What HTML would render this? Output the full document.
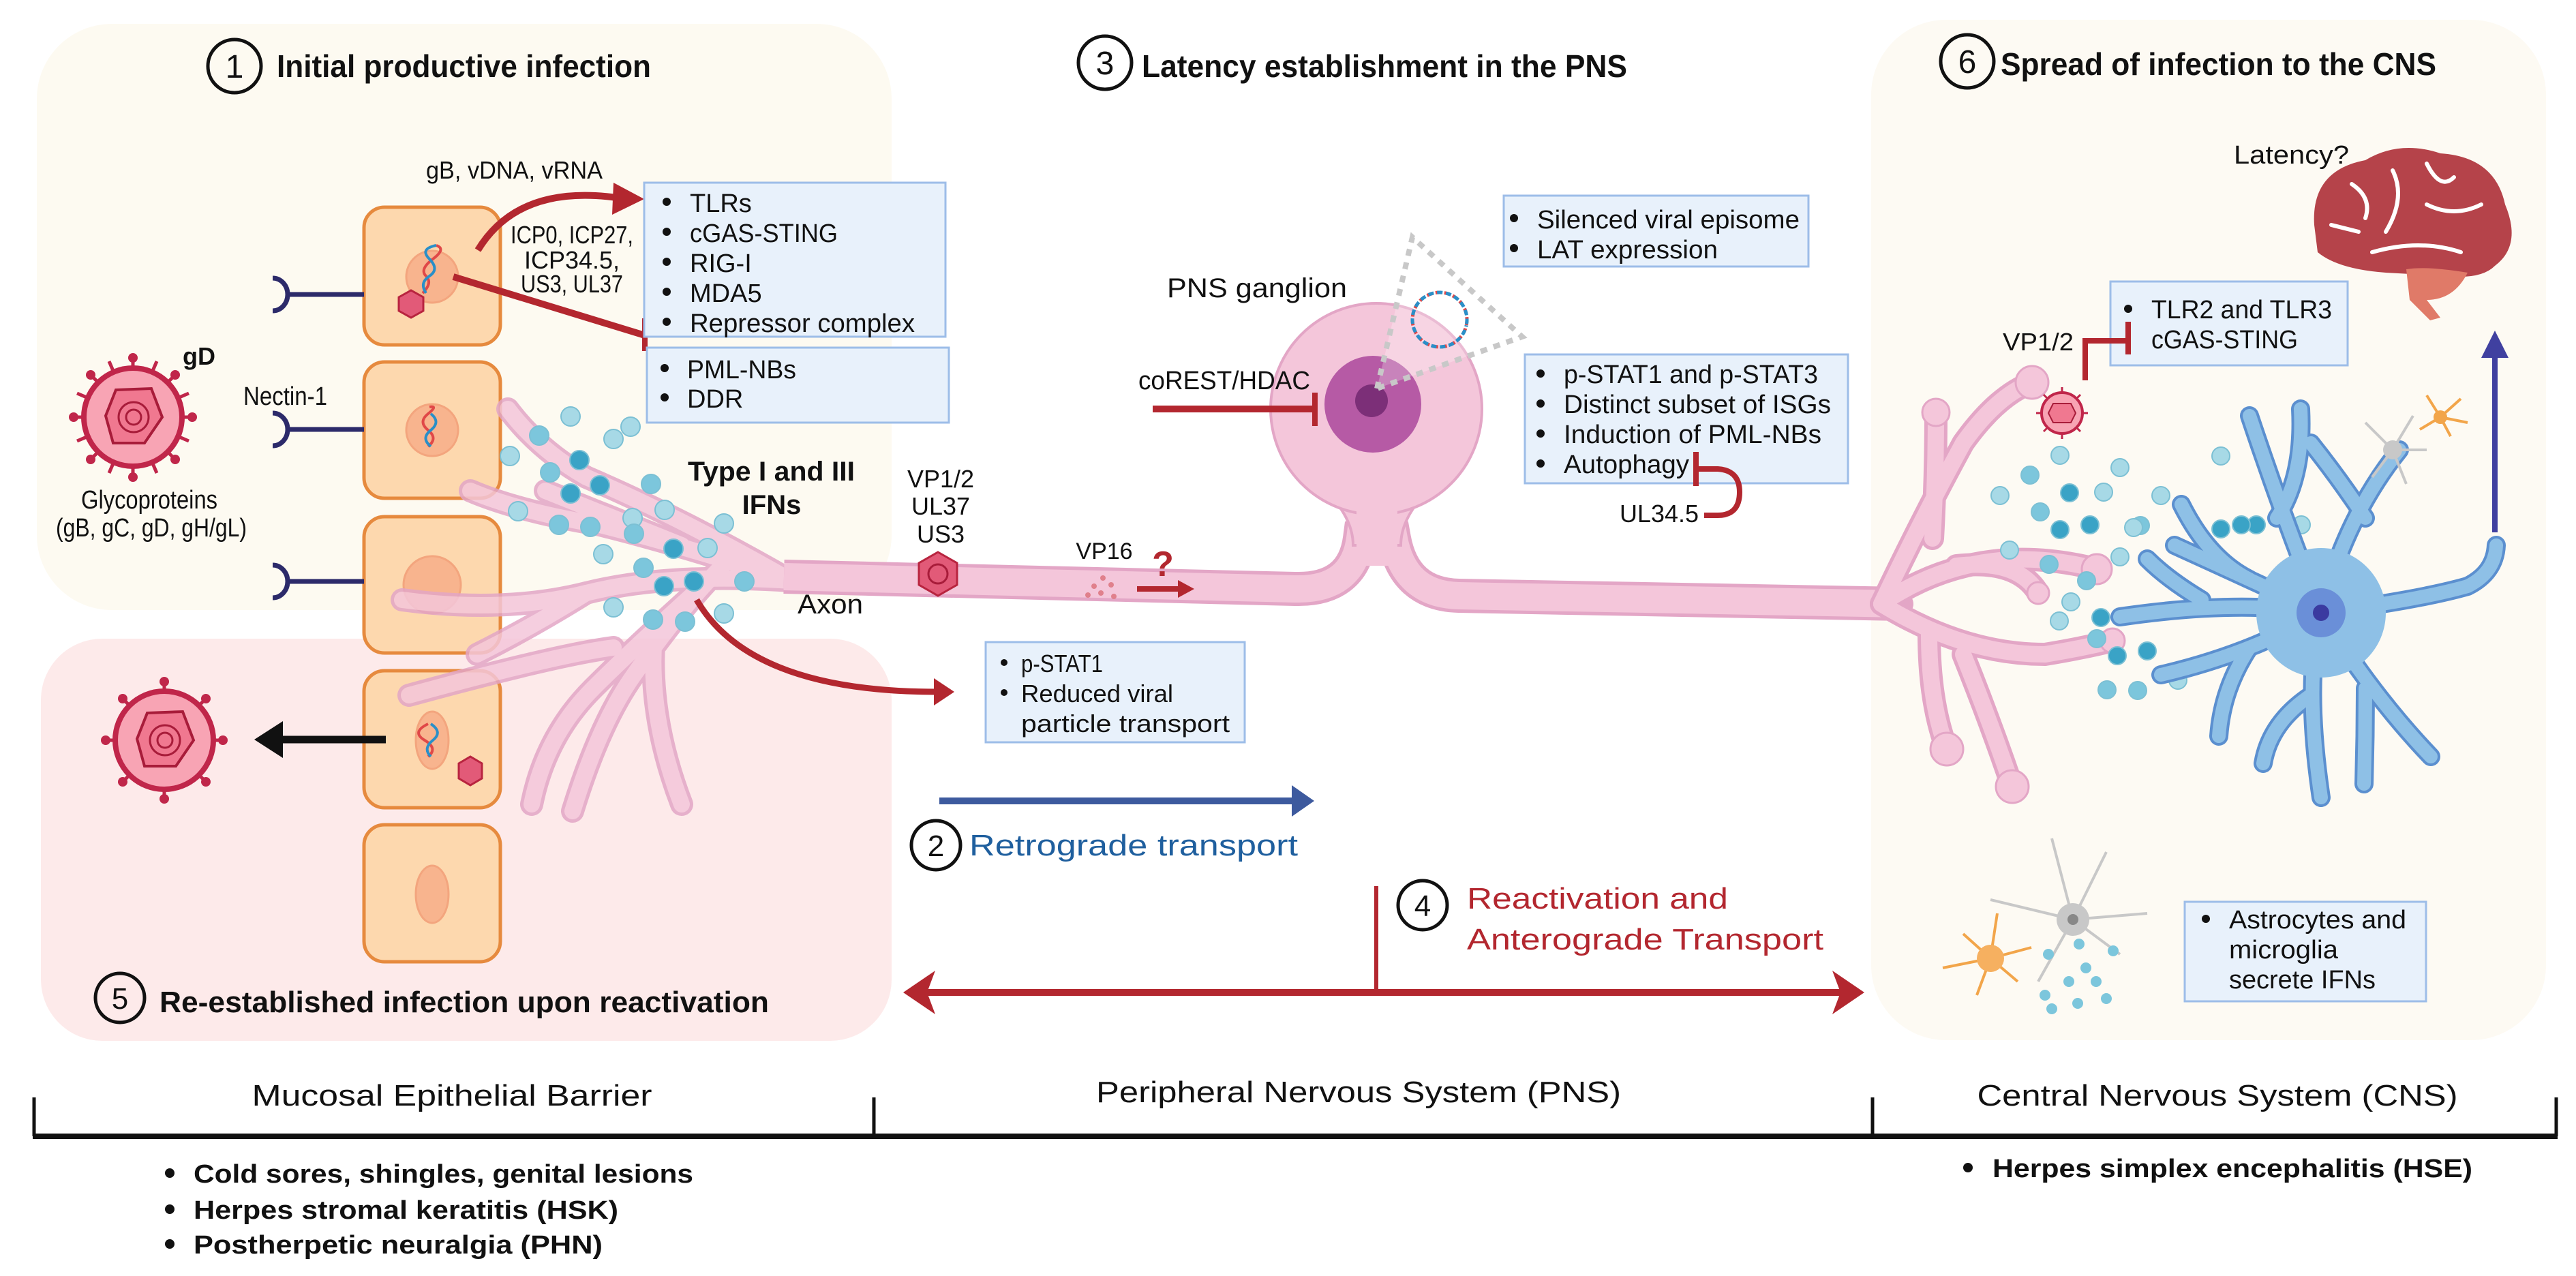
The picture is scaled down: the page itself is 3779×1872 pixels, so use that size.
<!DOCTYPE html>
<html><head><meta charset="utf-8"><style>
html,body{margin:0;padding:0;background:#fff;}
svg{display:block;}
text{font-family:"Liberation Sans",sans-serif;fill:#111;}
</style></head><body>
<svg width="3779" height="1872" viewBox="0 0 3779 1872" xmlns="http://www.w3.org/2000/svg">
<defs>
<marker id="ar" markerWidth="6" markerHeight="6" refX="3" refY="3" orient="auto" markerUnits="strokeWidth"><path d="M0,0 L6,3 L0,6 Z" fill="#b3272f"/></marker>
</defs>
<!-- panels -->
<rect x="54" y="35" width="1254" height="860" rx="110" fill="#fdfaf1"/>
<rect x="60" y="937" width="1248" height="590" rx="90" fill="#fdeaea"/>
<rect x="2745" y="29" width="990" height="1497" rx="110" fill="#fdfaf3"/>

<!-- titles -->
<circle cx="344" cy="97" r="39" fill="none" stroke="#111" stroke-width="5"/>
<text x="344" y="114" font-size="48" text-anchor="middle">1</text>
<text x="406" y="113" font-size="46" font-weight="bold" textLength="549" lengthAdjust="spacingAndGlyphs">Initial productive infection</text>
<circle cx="1621" cy="92" r="39" fill="none" stroke="#111" stroke-width="5"/>
<text x="1621" y="109" font-size="48" text-anchor="middle">3</text>
<text x="1675" y="113" font-size="46" font-weight="bold" textLength="712" lengthAdjust="spacingAndGlyphs">Latency establishment in the PNS</text>
<circle cx="2886" cy="90" r="39" fill="none" stroke="#111" stroke-width="5"/>
<text x="2886" y="107" font-size="48" text-anchor="middle">6</text>
<text x="2935" y="110" font-size="46" font-weight="bold" textLength="639" lengthAdjust="spacingAndGlyphs">Spread of infection to the CNS</text>

<!-- cells -->
<g fill="#fdd8ae" stroke="#e68a3e" stroke-width="5">
<rect x="534" y="304" width="200" height="202" rx="30"/>
<rect x="534" y="531" width="200" height="200" rx="30"/>
<rect x="534" y="758" width="200" height="200" rx="30"/>
<rect x="534" y="984" width="200" height="201" rx="30"/>
<rect x="534" y="1210" width="200" height="201" rx="30"/>
</g>
<g fill="#f8b48e" stroke="#f3a57e" stroke-width="3">
<circle cx="634" cy="406" r="38"/>
<circle cx="634" cy="631" r="38"/>
<circle cx="634" cy="858" r="42"/>
<ellipse cx="634" cy="1086" rx="24" ry="42"/>
<ellipse cx="634" cy="1312" rx="24" ry="42"/>
</g>
<!-- dna in nuclei -->
<path d="M620,430 q15,-15 5,-25 t10,-25 t5,-20" stroke="#e04848" stroke-width="4" fill="none"/>
<path d="M625,430 q-10,-15 5,-25 t0,-25 t10,-20" stroke="#2a8fc8" stroke-width="4" fill="none"/>
<path d="M628,655 q15,-12 0,-24 t0,-24 t2,-10" stroke="#e04848" stroke-width="4" fill="none"/>
<path d="M632,655 q-15,-12 0,-24 t0,-24" stroke="#2a8fc8" stroke-width="4" fill="none"/>
<path d="M628,1110 q15,-12 -5,-24 t5,-24" stroke="#e04848" stroke-width="4" fill="none"/>
<path d="M632,1110 q-12,-12 3,-24 t-3,-24" stroke="#2a8fc8" stroke-width="4" fill="none"/>
<polygon points="585,436 603,426 621,436 621,456 603,466 585,456" fill="#e25a78" stroke="#b8243f" stroke-width="3"/>
<polygon points="673,1120 690,1110 707,1120 707,1142 690,1152 673,1142" fill="#e25a78" stroke="#b8243f" stroke-width="3"/>

<!-- nectin receptors -->
<g stroke="#2c2a6a" stroke-width="7" fill="none">
<line x1="424" y1="432" x2="534" y2="432"/><path d="M400,408 a22,24 0 0 1 0,48"/>
<line x1="424" y1="630" x2="534" y2="630"/><path d="M400,606 a22,24 0 0 1 0,48"/>
<line x1="424" y1="853" x2="534" y2="853"/><path d="M400,829 a22,24 0 0 1 0,48"/>
</g>
<text x="357" y="594" font-size="38" textLength="123" lengthAdjust="spacingAndGlyphs">Nectin-1</text>

<!-- virion left -->
<g>
<g stroke="#c0264a" stroke-width="5">
<line x1="195" y1="525" x2="195" y2="700"/><line x1="108" y1="612" x2="282" y2="612"/>
<line x1="133" y1="550" x2="257" y2="674"/><line x1="257" y1="550" x2="133" y2="674"/>
<line x1="160" y1="530" x2="230" y2="694"/><line x1="230" y1="530" x2="160" y2="694"/>
<line x1="113" y1="577" x2="277" y2="647"/><line x1="113" y1="647" x2="277" y2="577"/>
</g>
<g fill="#c0264a"><circle cx="195" cy="525" r="7"/><circle cx="195" cy="700" r="7"/><circle cx="108" cy="612" r="7"/><circle cx="282" cy="612" r="7"/><circle cx="133" cy="550" r="7"/><circle cx="257" cy="674" r="7"/><circle cx="257" cy="550" r="7"/><circle cx="133" cy="674" r="7"/></g>
<circle cx="195" cy="612" r="72" fill="#f8a4b4" stroke="#c0264a" stroke-width="8"/>
<polygon points="170,572 222,570 238,612 212,650 166,650 155,610" fill="#f07890" stroke="#a81c3a" stroke-width="4"/>
<circle cx="196" cy="612" r="22" fill="none" stroke="#a81c3a" stroke-width="3"/>
<circle cx="196" cy="612" r="11" fill="none" stroke="#a81c3a" stroke-width="3"/>
</g>
<text x="268" y="535" font-size="36" font-weight="bold">gD</text>
<text x="219" y="746" font-size="38" text-anchor="middle" textLength="200" lengthAdjust="spacingAndGlyphs">Glycoproteins</text>
<text x="82" y="787" font-size="38" textLength="280" lengthAdjust="spacingAndGlyphs">(gB, gC, gD, gH/gL)</text>

<!-- left dendrites -->
<g fill="none" stroke-linecap="round" opacity="0.85">
<g stroke="#e3a6c6" stroke-width="34">
<path d="M1160,852 Q1000,760 860,700 Q790,660 745,600"/>
<path d="M1160,852 Q1000,800 880,770 Q760,750 690,720"/>
<path d="M1160,852 Q980,840 860,870 Q740,900 590,880"/>
<path d="M1000,800 Q900,760 800,720"/>
<path d="M1060,830 Q1000,890 930,990 Q880,1060 840,1190"/>
<path d="M1030,860 Q930,950 870,1010 Q800,1080 780,1180"/>
<path d="M900,950 Q820,960 600,1020"/>
<path d="M960,930 Q950,1050 1000,1180"/>
<path d="M860,870 Q780,920 700,960"/>
</g>
<g stroke="#f4c6da" stroke-width="24">
<path d="M1160,852 Q1000,760 860,700 Q790,660 745,600"/>
<path d="M1160,852 Q1000,800 880,770 Q760,750 690,720"/>
<path d="M1160,852 Q980,840 860,870 Q740,900 590,880"/>
<path d="M1000,800 Q900,760 800,720"/>
<path d="M1060,830 Q1000,890 930,990 Q880,1060 840,1190"/>
<path d="M1030,860 Q930,950 870,1010 Q800,1080 780,1180"/>
<path d="M900,950 Q820,960 600,1020"/>
<path d="M960,930 Q950,1050 1000,1180"/>
<path d="M860,870 Q780,920 700,960"/>
</g>
</g>
<!-- left IFN dots -->
<g stroke="#7cc0d4" stroke-width="2">
<circle cx="837" cy="611" r="14" fill="#a7d9e6"/><circle cx="791" cy="639" r="14" fill="#7cc6dc"/><circle cx="850" cy="675" r="14" fill="#3aa3c6"/>
<circle cx="900" cy="644" r="14" fill="#a7d9e6"/><circle cx="925" cy="626" r="14" fill="#a7d9e6"/><circle cx="748" cy="669" r="14" fill="#a7d9e6"/>
<circle cx="807" cy="693" r="14" fill="#7cc6dc"/><circle cx="837" cy="724" r="14" fill="#3aa3c6"/><circle cx="880" cy="712" r="14" fill="#3aa3c6"/>
<circle cx="955" cy="710" r="14" fill="#7cc6dc"/><circle cx="760" cy="750" r="14" fill="#a7d9e6"/><circle cx="820" cy="770" r="14" fill="#7cc6dc"/>
<circle cx="866" cy="773" r="14" fill="#7cc6dc"/><circle cx="928" cy="760" r="14" fill="#a7d9e6"/><circle cx="975" cy="748" r="14" fill="#a7d9e6"/>
<circle cx="930" cy="783" r="14" fill="#7cc6dc"/><circle cx="1062" cy="768" r="14" fill="#a7d9e6"/><circle cx="885" cy="813" r="14" fill="#a7d9e6"/>
<circle cx="988" cy="805" r="14" fill="#3aa3c6"/><circle cx="1038" cy="804" r="14" fill="#a7d9e6"/><circle cx="944" cy="833" r="14" fill="#7cc6dc"/>
<circle cx="974" cy="860" r="14" fill="#3aa3c6"/><circle cx="1018" cy="853" r="14" fill="#3aa3c6"/><circle cx="1092" cy="853" r="14" fill="#7cc6dc"/>
<circle cx="900" cy="891" r="14" fill="#a7d9e6"/><circle cx="958" cy="909" r="14" fill="#7cc6dc"/><circle cx="1005" cy="912" r="14" fill="#7cc6dc"/><circle cx="1062" cy="900" r="14" fill="#a7d9e6"/>
</g>
<text x="1009" y="705" font-size="40" font-weight="bold" textLength="245" lengthAdjust="spacingAndGlyphs">Type I and III</text>
<text x="1132" y="754" font-size="40" font-weight="bold" text-anchor="middle">IFNs</text>
<text x="1170" y="900" font-size="40" textLength="96" lengthAdjust="spacingAndGlyphs">Axon</text>

<!-- left labels & arrows -->
<text x="625" y="262" font-size="36" textLength="259" lengthAdjust="spacingAndGlyphs">gB, vDNA, vRNA</text>
<text x="839" y="357" font-size="36" text-anchor="middle" textLength="180" lengthAdjust="spacingAndGlyphs">ICP0, ICP27,</text>
<text x="839" y="394" font-size="36" text-anchor="middle">ICP34.5,</text>
<text x="839" y="429" font-size="36" text-anchor="middle" textLength="150" lengthAdjust="spacingAndGlyphs">US3, UL37</text>
<path d="M701,367 Q760,270 905,290" stroke="#b3272f" stroke-width="10" fill="none"/>
<polygon points="945,292 900,268 898,315" fill="#b3272f"/>
<line x1="665" y1="406" x2="946" y2="492" stroke="#b3272f" stroke-width="10"/>
<line x1="946" y1="467" x2="946" y2="515" stroke="#b3272f" stroke-width="8"/>

<!-- boxes -->
<g fill="#e8f1fb" stroke="#9dbde8" stroke-width="3">
<rect x="945" y="268" width="442" height="226"/>
<rect x="949" y="510" width="443" height="110"/>
<rect x="1446" y="942" width="380" height="147"/>
<rect x="2206" y="287" width="447" height="104"/>
<rect x="2237" y="520" width="474" height="189"/>
<rect x="3096" y="413" width="348" height="123"/>
<rect x="3205" y="1323" width="354" height="146"/>
</g>
<g font-size="38">
<circle cx="978" cy="296" r="6" fill="#111"/><text x="1012" y="311">TLRs</text>
<circle cx="978" cy="340" r="6" fill="#111"/><text x="1012" y="355" textLength="217" lengthAdjust="spacingAndGlyphs">cGAS-STING</text>
<circle cx="978" cy="384" r="6" fill="#111"/><text x="1012" y="399">RIG-I</text>
<circle cx="978" cy="428" r="6" fill="#111"/><text x="1012" y="443">MDA5</text>
<circle cx="978" cy="472" r="6" fill="#111"/><text x="1012" y="487" textLength="330" lengthAdjust="spacingAndGlyphs">Repressor complex</text>
<circle cx="975" cy="540" r="6" fill="#111"/><text x="1008" y="555" textLength="160" lengthAdjust="spacingAndGlyphs">PML-NBs</text>
<circle cx="975" cy="583" r="6" fill="#111"/><text x="1008" y="598">DDR</text>

<circle cx="1473" cy="972" r="5" fill="#111"/><text x="1498" y="986" font-size="36" textLength="120" lengthAdjust="spacingAndGlyphs">p-STAT1</text>
<circle cx="1473" cy="1016" r="5" fill="#111"/><text x="1498" y="1030" font-size="36" textLength="223" lengthAdjust="spacingAndGlyphs">Reduced viral</text>
<text x="1498" y="1074" font-size="36" textLength="306" lengthAdjust="spacingAndGlyphs">particle transport</text>

<circle cx="2221" cy="320" r="6" fill="#111"/><text x="2255" y="335" textLength="385" lengthAdjust="spacingAndGlyphs">Silenced viral episome</text>
<circle cx="2221" cy="364" r="6" fill="#111"/><text x="2255" y="379" textLength="265" lengthAdjust="spacingAndGlyphs">LAT expression</text>

<circle cx="2260" cy="548" r="6" fill="#111"/><text x="2294" y="562" textLength="373" lengthAdjust="spacingAndGlyphs">p-STAT1 and p-STAT3</text>
<circle cx="2260" cy="592" r="6" fill="#111"/><text x="2294" y="606" textLength="392" lengthAdjust="spacingAndGlyphs">Distinct subset of ISGs</text>
<circle cx="2260" cy="636" r="6" fill="#111"/><text x="2294" y="650" textLength="378" lengthAdjust="spacingAndGlyphs">Induction of PML-NBs</text>
<circle cx="2260" cy="680" r="6" fill="#111"/><text x="2294" y="694" textLength="184" lengthAdjust="spacingAndGlyphs">Autophagy</text>

<circle cx="3122" cy="453" r="6" fill="#111"/><text x="3156" y="467" textLength="265" lengthAdjust="spacingAndGlyphs">TLR2 and TLR3</text>
<text x="3156" y="511" textLength="215" lengthAdjust="spacingAndGlyphs">cGAS-STING</text>

<circle cx="3236" cy="1348" r="6" fill="#111"/><text x="3270" y="1362" textLength="260" lengthAdjust="spacingAndGlyphs">Astrocytes and</text>
<text x="3270" y="1406" textLength="160" lengthAdjust="spacingAndGlyphs">microglia</text>
<text x="3270" y="1450" textLength="215" lengthAdjust="spacingAndGlyphs">secrete IFNs</text>
</g>

<!-- axon and soma -->
<path d="M1150,846 L1900,864 Q1985,866 1995,790 L2045,790 Q2060,872 2140,874 L2790,886" stroke="#e3a6c6" stroke-width="50" fill="none"/>
<path d="M1150,846 L1900,864 Q1985,866 1995,790 L2045,790 Q2060,872 2140,874 L2790,886" stroke="#f4c6da" stroke-width="40" fill="none"/>
<path d="M1895,680 Q1985,740 1985,800 L2055,800 Q2055,740 2145,680 Z" fill="#f4c6da" stroke="#e3a6c6" stroke-width="4"/>
<circle cx="2019" cy="600" r="155" fill="#f4c6da" stroke="#e3a6c6" stroke-width="4"/>
<rect x="1990" y="690" width="60" height="140" fill="#f4c6da"/>
<circle cx="2014" cy="593" r="71" fill="#b65aa5"/>
<circle cx="2012" cy="588" r="24" fill="#7c2f78"/>
<path d="M2020,570 L2072,348 L2233,494 Z" fill="#ffffff" fill-opacity="0.25" stroke="#c8c8c8" stroke-width="8" stroke-dasharray="10,10"/>
<circle cx="2112" cy="469" r="40" fill="none" stroke="#e04848" stroke-width="5" stroke-dasharray="8,5"/>
<circle cx="2112" cy="469" r="40" fill="none" stroke="#2a8fc8" stroke-width="5" stroke-dasharray="8,5" stroke-dashoffset="6" transform="rotate(12 2112 469)"/>
<text x="1712" y="436" font-size="40" textLength="264" lengthAdjust="spacingAndGlyphs">PNS ganglion</text>
<text x="1670" y="571" font-size="38" textLength="252" lengthAdjust="spacingAndGlyphs">coREST/HDAC</text>
<line x1="1691" y1="600" x2="1929" y2="600" stroke="#b3272f" stroke-width="10"/>
<line x1="1929" y1="576" x2="1929" y2="625" stroke="#b3272f" stroke-width="8"/>
<!-- UL34.5 hook -->
<line x1="2488" y1="663" x2="2488" y2="713" stroke="#b3272f" stroke-width="8"/>
<path d="M2488,688 L2520,688 Q2552,690 2552,722 Q2552,756 2520,756 L2500,756" stroke="#b3272f" stroke-width="8" fill="none"/>
<text x="2376" y="766" font-size="36" textLength="116" lengthAdjust="spacingAndGlyphs">UL34.5</text>

<!-- VP1/2 etc -->
<text x="1380" y="715" font-size="36" text-anchor="middle">VP1/2</text>
<text x="1380" y="755" font-size="36" text-anchor="middle">UL37</text>
<text x="1380" y="796" font-size="36" text-anchor="middle">US3</text>
<polygon points="1376,810 1404,826 1404,858 1376,874 1348,858 1348,826" fill="#e25a78" stroke="#b8243f" stroke-width="3"/>
<circle cx="1376" cy="842" r="14" fill="none" stroke="#a81c3a" stroke-width="3"/>
<text x="1620" y="820" font-size="34" text-anchor="middle">VP16</text>
<g fill="#e0808c"><circle cx="1618" cy="848" r="4"/><circle cx="1605" cy="860" r="4"/><circle cx="1630" cy="858" r="4"/><circle cx="1596" cy="873" r="4"/><circle cx="1615" cy="870" r="4"/><circle cx="1634" cy="875" r="4"/></g>
<text x="1706" y="845" font-size="52" font-weight="bold" fill="#b3272f" text-anchor="middle" style="fill:#b3272f">?</text>
<line x1="1668" y1="864" x2="1730" y2="864" stroke="#b3272f" stroke-width="8"/>
<polygon points="1752,864 1728,851 1728,877" fill="#b3272f"/>

<!-- red arrow to p-STAT1 box -->
<path d="M1022,880 Q1100,1015 1375,1015" stroke="#b3272f" stroke-width="9" fill="none"/>
<polygon points="1400,1015 1370,995 1370,1035" fill="#b3272f"/>

<!-- retrograde -->
<line x1="1378" y1="1175" x2="1900" y2="1175" stroke="#3d5a9e" stroke-width="10"/>
<polygon points="1928,1175 1895,1152 1895,1198" fill="#3d5a9e"/>
<circle cx="1373" cy="1240" r="36" fill="none" stroke="#111" stroke-width="5"/>
<text x="1373" y="1256" font-size="44" text-anchor="middle">2</text>
<text x="1422" y="1255" font-size="44" style="fill:#1f5f9e" textLength="482" lengthAdjust="spacingAndGlyphs">Retrograde transport</text>

<!-- reactivation -->
<line x1="2019" y1="1300" x2="2019" y2="1452" stroke="#b3272f" stroke-width="6"/>
<circle cx="2087" cy="1328" r="36" fill="none" stroke="#111" stroke-width="5"/>
<text x="2087" y="1344" font-size="44" text-anchor="middle">4</text>
<text x="2152" y="1333" font-size="44" style="fill:#b3272f" textLength="383" lengthAdjust="spacingAndGlyphs">Reactivation and</text>
<text x="2152" y="1393" font-size="44" style="fill:#b3272f" textLength="523" lengthAdjust="spacingAndGlyphs">Anterograde Transport</text>
<line x1="1360" y1="1456" x2="2700" y2="1456" stroke="#b3272f" stroke-width="10"/>
<polygon points="1325,1456 1372,1424 1360,1456 1372,1488" fill="#b3272f"/>
<polygon points="2735,1456 2688,1424 2700,1456 2688,1488" fill="#b3272f"/>

<!-- panel 5 -->
<g>
<g stroke="#c0264a" stroke-width="5">
<line x1="241" y1="1000" x2="241" y2="1172"/><line x1="155" y1="1086" x2="327" y2="1086"/>
<line x1="180" y1="1025" x2="302" y2="1147"/><line x1="302" y1="1025" x2="180" y2="1147"/>
</g>
<g fill="#c0264a"><circle cx="241" cy="1000" r="7"/><circle cx="241" cy="1172" r="7"/><circle cx="155" cy="1086" r="7"/><circle cx="327" cy="1086" r="7"/><circle cx="180" cy="1025" r="7"/><circle cx="302" cy="1147" r="7"/><circle cx="302" cy="1025" r="7"/><circle cx="180" cy="1147" r="7"/></g>
<circle cx="241" cy="1086" r="72" fill="#f8a4b4" stroke="#c0264a" stroke-width="8"/>
<polygon points="216,1046 268,1044 284,1086 258,1124 212,1124 201,1084" fill="#f07890" stroke="#a81c3a" stroke-width="4"/>
<circle cx="242" cy="1086" r="22" fill="none" stroke="#a81c3a" stroke-width="3"/>
<circle cx="242" cy="1086" r="11" fill="none" stroke="#a81c3a" stroke-width="3"/>
</g>
<line x1="566" y1="1085" x2="410" y2="1085" stroke="#111" stroke-width="11"/>
<polygon points="373,1085 415,1058 415,1112" fill="#111"/>
<circle cx="176" cy="1464" r="36" fill="none" stroke="#111" stroke-width="5"/>
<text x="176" y="1480" font-size="44" text-anchor="middle">5</text>
<text x="234" y="1485" font-size="44" font-weight="bold" textLength="894" lengthAdjust="spacingAndGlyphs">Re-established infection upon reactivation</text>

<!-- right dendrites -->
<g fill="none" stroke-linecap="round">
<g stroke="#e3a6c6" stroke-width="34">
<path d="M2760,886 Q2820,760 2880,650 Q2930,580 2981,561"/>
<path d="M2790,886 L2770,885"/>
<path d="M2835,790 Q2840,700 2840,608"/>
<path d="M2760,886 Q2900,790 3076,835"/>
<path d="M2870,830 Q2960,820 2990,870"/>
<path d="M2760,886 Q2880,960 3000,960 Q3060,950 3099,940"/>
<path d="M2830,930 Q2830,1030 2856,1099"/>
<path d="M2880,960 Q2920,1060 2952,1154"/>
</g>
<g stroke="#f4c6da" stroke-width="24">
<path d="M2760,886 Q2820,760 2880,650 Q2930,580 2981,561"/>
<path d="M2835,790 Q2840,700 2840,608"/>
<path d="M2760,886 Q2900,790 3076,835"/>
<path d="M2870,830 Q2960,820 2990,870"/>
<path d="M2760,886 Q2880,960 3000,960 Q3060,950 3099,940"/>
<path d="M2830,930 Q2830,1030 2856,1099"/>
<path d="M2880,960 Q2920,1060 2952,1154"/>
</g>
</g>
<g fill="#f4c6da" stroke="#e3a6c6" stroke-width="3"><circle cx="2981" cy="561" r="24"/><circle cx="2840" cy="605" r="20"/><circle cx="3076" cy="835" r="22"/><circle cx="2990" cy="870" r="16"/><circle cx="3099" cy="940" r="18"/><circle cx="2856" cy="1099" r="24"/><circle cx="2952" cy="1154" r="24"/></g>

<!-- small virion right -->
<g stroke="#c0264a" stroke-width="3">
<line x1="3025" y1="568" x2="3025" y2="644"/><line x1="2987" y1="606" x2="3063" y2="606"/>
<line x1="2998" y1="579" x2="3052" y2="633"/><line x1="3052" y1="579" x2="2998" y2="633"/>
</g>
<circle cx="3025" cy="606" r="30" fill="#f8a4b4" stroke="#c0264a" stroke-width="4"/>
<polygon points="3012,592 3038,592 3045,606 3038,620 3012,620 3005,606" fill="#f07890" stroke="#a81c3a" stroke-width="2"/>
<text x="2938" y="514" font-size="36" textLength="104" lengthAdjust="spacingAndGlyphs">VP1/2</text>
<path d="M3059,558 L3059,500 L3122,500" stroke="#b3272f" stroke-width="8" fill="none"/>
<line x1="3122" y1="472" x2="3122" y2="520" stroke="#b3272f" stroke-width="8"/>

<!-- right IFN dots -->
<g stroke="#7cc0d4" stroke-width="2">
<circle cx="3022" cy="668" r="13" fill="#a7d9e6"/><circle cx="2978" cy="697" r="13" fill="#7cc6dc"/><circle cx="3110" cy="686" r="13" fill="#a7d9e6"/>
<circle cx="2934" cy="727" r="13" fill="#a7d9e6"/><circle cx="3036" cy="723" r="13" fill="#3aa3c6"/><circle cx="3086" cy="722" r="13" fill="#a7d9e6"/>
<circle cx="2993" cy="751" r="13" fill="#7cc6dc"/><circle cx="3022" cy="777" r="13" fill="#3aa3c6"/><circle cx="3066" cy="770" r="13" fill="#3aa3c6"/>
<circle cx="3140" cy="771" r="13" fill="#7cc6dc"/><circle cx="3170" cy="727" r="13" fill="#a7d9e6"/><circle cx="3258" cy="669" r="13" fill="#a7d9e6"/>
<circle cx="2948" cy="807" r="13" fill="#a7d9e6"/><circle cx="3006" cy="828" r="13" fill="#7cc6dc"/><circle cx="3110" cy="817" r="13" fill="#a7d9e6"/>
<circle cx="3061" cy="852" r="13" fill="#7cc6dc"/><circle cx="3038" cy="883" r="13" fill="#a7d9e6"/><circle cx="3021" cy="911" r="13" fill="#a7d9e6"/>
<circle cx="3082" cy="906" r="13" fill="#3aa3c6"/><circle cx="3076" cy="937" r="13" fill="#7cc6dc"/><circle cx="3106" cy="962" r="13" fill="#3aa3c6"/>
<circle cx="3150" cy="955" r="13" fill="#3aa3c6"/><circle cx="3091" cy="1012" r="13" fill="#7cc6dc"/><circle cx="3136" cy="1013" r="13" fill="#7cc6dc"/>
<circle cx="3195" cy="998" r="13" fill="#a7d9e6"/><circle cx="3130" cy="774" r="13" fill="#a7d9e6"/><circle cx="3310" cy="770" r="13" fill="#3aa3c6"/>
<circle cx="3258" cy="776" r="13" fill="#3aa3c6"/><circle cx="3288" cy="770" r="13" fill="#3aa3c6"/><circle cx="3376" cy="770" r="13" fill="#a7d9e6"/>
</g>

<!-- blue neuron -->
<g fill="none" stroke-linecap="round">
<g stroke="#5b8fcf" stroke-width="28">
<path d="M3405,899 Q3350,760 3300,610"/><path d="M3340,760 Q3380,700 3375,600"/>
<path d="M3405,899 Q3440,760 3520,660"/><path d="M3470,760 Q3430,700 3390,650"/>
<path d="M3405,899 Q3300,850 3190,800"/><path d="M3300,850 Q3240,820 3200,740"/>
<path d="M3405,899 Q3280,880 3110,905"/><path d="M3230,880 Q3180,850 3150,820"/>
<path d="M3405,899 Q3300,960 3170,990"/><path d="M3300,950 Q3260,1010 3255,1080"/>
<path d="M3405,899 Q3380,1000 3405,1170"/><path d="M3390,1020 Q3330,1060 3320,1120"/>
<path d="M3405,899 Q3480,1020 3566,1110"/><path d="M3470,1010 Q3470,1080 3468,1150"/>
<path d="M3405,899 Q3550,880 3620,860 Q3660,840 3662,800"/>
</g>
<g stroke="#8ec0e6" stroke-width="20">
<path d="M3405,899 Q3350,760 3300,610"/><path d="M3340,760 Q3380,700 3375,600"/>
<path d="M3405,899 Q3440,760 3520,660"/><path d="M3470,760 Q3430,700 3390,650"/>
<path d="M3405,899 Q3300,850 3190,800"/><path d="M3300,850 Q3240,820 3200,740"/>
<path d="M3405,899 Q3280,880 3110,905"/><path d="M3230,880 Q3180,850 3150,820"/>
<path d="M3405,899 Q3300,960 3170,990"/><path d="M3300,950 Q3260,1010 3255,1080"/>
<path d="M3405,899 Q3380,1000 3405,1170"/><path d="M3390,1020 Q3330,1060 3320,1120"/>
<path d="M3405,899 Q3480,1020 3566,1110"/><path d="M3470,1010 Q3470,1080 3468,1150"/>
<path d="M3405,899 Q3550,880 3620,860 Q3660,840 3662,800"/>
</g>
</g>
<circle cx="3405" cy="899" r="95" fill="#8ec0e6"/>
<circle cx="3405" cy="899" r="36" fill="#6a8fd8"/>
<circle cx="3405" cy="899" r="12" fill="#3b3aa0"/>
<!-- purple arrow -->
<line x1="3660" y1="781" x2="3660" y2="520" stroke="#4040a0" stroke-width="8"/>
<polygon points="3660,485 3640,525 3680,525" fill="#4040a0"/>

<!-- brain -->
<path d="M3395,330 Q3390,250 3470,235 Q3520,205 3580,225 Q3660,230 3675,300 Q3700,360 3660,390 Q3640,410 3590,405 L3500,400 Q3430,395 3400,370 Z" fill="#b5434a"/>
<path d="M3530,395 Q3560,390 3620,400 Q3600,440 3560,440 L3580,466 L3565,470 L3535,440 Z" fill="#e07a68"/>
<g stroke="#fff" stroke-width="6" fill="none" stroke-linecap="round">
<path d="M3450,270 Q3480,290 3470,320"/><path d="M3510,250 Q3530,290 3500,340"/><path d="M3560,240 Q3580,280 3600,260"/>
<path d="M3560,300 Q3600,320 3640,300"/><path d="M3480,370 Q3550,350 3610,370"/><path d="M3420,330 L3460,340"/>
</g>
<text x="3277" y="240" font-size="38" textLength="169" lengthAdjust="spacingAndGlyphs">Latency?</text>

<!-- glia -->
<g stroke="#c8c8c8" stroke-width="4" fill="none">
<path d="M3510,660 L3470,620 M3510,660 L3540,610 M3510,660 L3560,660 M3510,660 L3480,700 M3510,660 L3530,710"/>
<path d="M3041,1349 L3010,1230 M3041,1349 L3090,1250 M3041,1349 L2920,1320 M3041,1349 L3150,1340 M3041,1349 L2990,1440 M3041,1349 L3110,1400"/>
</g>
<circle cx="3510" cy="660" r="14" fill="#c8c8c8"/><circle cx="3041" cy="1349" r="24" fill="#c8c8c8"/><circle cx="3041" cy="1349" r="8" fill="#888"/>
<g stroke="#f2a54a" stroke-width="4" fill="none">
<path d="M3580,612 L3560,580 M3580,612 L3610,585 M3580,612 L3620,620 M3580,612 L3550,630 M3580,612 L3595,640"/>
<path d="M2920,1406 L2880,1370 M2920,1406 L2930,1340 M2920,1406 L2850,1420 M2920,1406 L2960,1440 M2920,1406 L2900,1460 M2920,1406 L2980,1390"/>
</g>
<circle cx="3580" cy="612" r="10" fill="#f2a54a"/><circle cx="2920" cy="1406" r="20" fill="#f6b060"/>
<g fill="#7cc6dc"><circle cx="3050" cy="1385" r="8"/><circle cx="3005" cy="1400" r="8"/><circle cx="3060" cy="1420" r="8"/><circle cx="3035" cy="1440" r="8"/><circle cx="3075" cy="1440" r="8"/><circle cx="3000" cy="1460" r="8"/><circle cx="3048" cy="1472" r="8"/><circle cx="3090" cy="1465" r="8"/><circle cx="3010" cy="1480" r="8"/><circle cx="3100" cy="1395" r="8"/></g>

<!-- bottom axis -->
<line x1="48" y1="1667" x2="3752" y2="1667" stroke="#111" stroke-width="8"/>
<g stroke="#111" stroke-width="5"><line x1="50" y1="1610" x2="50" y2="1667"/><line x1="1282" y1="1610" x2="1282" y2="1667"/><line x1="2747" y1="1610" x2="2747" y2="1667"/><line x1="3750" y1="1610" x2="3750" y2="1667"/></g>
<text x="663" y="1622" font-size="44" text-anchor="middle" textLength="587" lengthAdjust="spacingAndGlyphs">Mucosal Epithelial Barrier</text>
<text x="1993" y="1617" font-size="44" text-anchor="middle" textLength="770" lengthAdjust="spacingAndGlyphs">Peripheral Nervous System (PNS)</text>
<text x="3253" y="1622" font-size="44" text-anchor="middle" textLength="705" lengthAdjust="spacingAndGlyphs">Central Nervous System (CNS)</text>
<g font-size="38" font-weight="bold">
<circle cx="249" cy="1721" r="7" fill="#111"/><text x="284" y="1735" textLength="733" lengthAdjust="spacingAndGlyphs">Cold sores, shingles, genital lesions</text>
<circle cx="249" cy="1774" r="7" fill="#111"/><text x="284" y="1788" textLength="623" lengthAdjust="spacingAndGlyphs">Herpes stromal keratitis (HSK)</text>
<circle cx="249" cy="1825" r="7" fill="#111"/><text x="284" y="1839" textLength="600" lengthAdjust="spacingAndGlyphs">Postherpetic neuralgia (PHN)</text>
<circle cx="2887" cy="1713" r="7" fill="#111"/><text x="2923" y="1727" textLength="704" lengthAdjust="spacingAndGlyphs">Herpes simplex encephalitis (HSE)</text>
</g>
</svg>
</body></html>
